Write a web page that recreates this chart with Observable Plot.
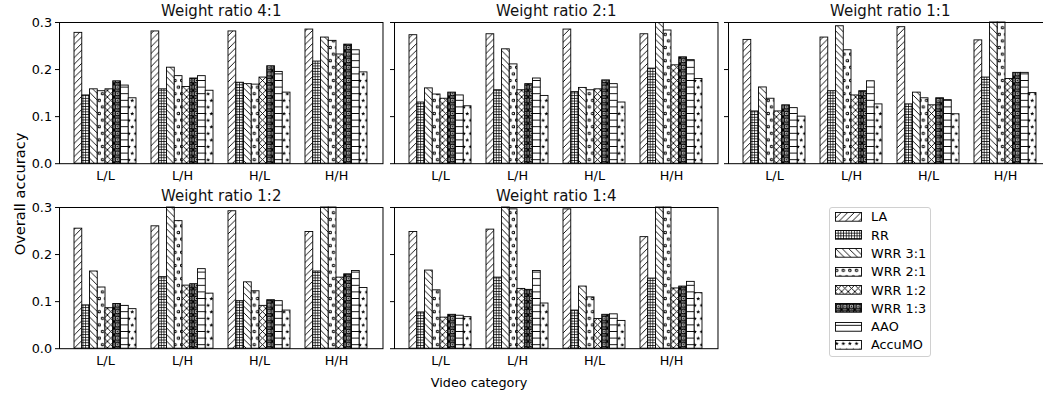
<!DOCTYPE html>
<html><head><meta charset="utf-8">
<script src="https://cdn.jsdelivr.net/npm/d3@7"></script>
<script src="https://cdn.jsdelivr.net/npm/@observablehq/plot@0.6"></script>
<style>
body{margin:0;background:#fff;}
#fig{position:relative;width:1043px;height:395px;overflow:hidden;font-family:"DejaVu Sans",sans-serif;color:#000;background:#fff;}
.panel{position:absolute;}
.lbl{position:absolute;font-size:12.8px;white-space:nowrap;}
#legend{position:absolute;left:829px;top:207px;width:100px;height:148px;border:1px solid #d0d0d0;border-radius:3px;background:#fff;}
.lrow{position:absolute;left:5px;height:10px;display:flex;align-items:center;font-size:12.8px;white-space:nowrap;}
.lrow svg{margin-right:9px;}
</style></head><body>
<svg width="0" height="0" style="position:absolute"><defs id="pdefs"></defs></svg>
<div id="fig"></div>
<script>
// ---- data ----
const categories = ["L/L", "L/H", "H/L", "H/H"];
const methods = ["LA", "RR", "WRR 3:1", "WRR 2:1", "WRR 1:2", "WRR 1:3", "AAO", "AccuMO"];
const panelTitles = ["Weight ratio 4:1", "Weight ratio 2:1", "Weight ratio 1:1", "Weight ratio 1:2", "Weight ratio 1:4"];
const yTicks = [0, 0.1, 0.2, 0.3];
const xLabel = "Video category";
const yLabel = "Overall accuracy";

// rows: methods (in order above), columns: categories
const ratio_4_1 = [
  [0.278, 0.281, 0.281, 0.285],
  [0.145, 0.158, 0.172, 0.217],
  [0.158, 0.204, 0.169, 0.268],
  [0.154, 0.186, 0.168, 0.261],
  [0.158, 0.163, 0.183, 0.232],
  [0.175, 0.181, 0.207, 0.253],
  [0.166, 0.186, 0.195, 0.241],
  [0.139, 0.155, 0.151, 0.194]
];
const ratio_2_1 = [
  [0.273, 0.275, 0.285, 0.275],
  [0.130, 0.156, 0.152, 0.202],
  [0.160, 0.243, 0.161, 0.299],
  [0.147, 0.211, 0.156, 0.283],
  [0.138, 0.156, 0.158, 0.209],
  [0.151, 0.169, 0.177, 0.226],
  [0.145, 0.181, 0.169, 0.220],
  [0.122, 0.144, 0.130, 0.180]
];
const ratio_1_1 = [
  [0.263, 0.268, 0.290, 0.262],
  [0.111, 0.154, 0.126, 0.183],
  [0.162, 0.292, 0.151, 0.320],
  [0.138, 0.241, 0.139, 0.310],
  [0.111, 0.145, 0.124, 0.180],
  [0.124, 0.154, 0.139, 0.193],
  [0.118, 0.175, 0.135, 0.193],
  [0.100, 0.126, 0.105, 0.150]
];
const ratio_1_2 = [
  [0.255, 0.260, 0.292, 0.248],
  [0.092, 0.152, 0.101, 0.164],
  [0.164, 0.310, 0.141, 0.320],
  [0.130, 0.271, 0.122, 0.310],
  [0.086, 0.134, 0.091, 0.151],
  [0.095, 0.137, 0.103, 0.158],
  [0.091, 0.169, 0.101, 0.165],
  [0.084, 0.117, 0.081, 0.129]
];
const ratio_1_4 = [
  [0.248, 0.253, 0.296, 0.237],
  [0.077, 0.151, 0.081, 0.149],
  [0.166, 0.320, 0.132, 0.320],
  [0.124, 0.296, 0.109, 0.310],
  [0.066, 0.127, 0.063, 0.128],
  [0.072, 0.125, 0.072, 0.132],
  [0.070, 0.165, 0.073, 0.142],
  [0.067, 0.096, 0.059, 0.118]
];
const panelData = [ratio_4_1, ratio_2_1, ratio_1_1, ratio_1_2, ratio_1_4];

// ---- hatch patterns (matplotlib-like) ----
function star(cx, cy, R, r) {
  const pts = [];
  for (let k = 0; k < 10; k++) {
    const a = (-90 + k * 36) * Math.PI / 180, rr = k % 2 ? r : R;
    pts.push((cx + rr * Math.cos(a)).toFixed(2) + "," + (cy + rr * Math.sin(a)).toFixed(2));
  }
  return `<polygon points="${pts.join(" ")}" fill="black"/>`;
}
const S = 'stroke="black"';
const U = 6.6, H2 = 13.2;
const patternDefs = [
  `<pattern id="p0" patternUnits="userSpaceOnUse" width="${U}" height="${U}"><rect width="${U}" height="${U}" fill="white"/><path d="M-1,1L1,-1M0,${U}L${U},0M${U-1},${U+1}L${U+1},${U-1}" ${S} stroke-width="0.9"/></pattern>`,
  `<pattern id="p1" patternUnits="userSpaceOnUse" width="2.7" height="2.7"><rect width="2.7" height="2.7" fill="white"/><path d="M0,0.4H2.7M0.4,0V2.7" ${S} stroke-width="0.8"/></pattern>`,
  `<pattern id="p2" patternUnits="userSpaceOnUse" width="${U}" height="${U}"><rect width="${U}" height="${U}" fill="white"/><path d="M-1,${U-1}L1,${U+1}M0,0L${U},${U}M${U-1},-1L${U+1},1" ${S} stroke-width="0.9"/></pattern>`,
  `<pattern id="p3" patternUnits="userSpaceOnUse" width="${U}" height="${H2}"><rect width="${U}" height="${H2}" fill="white"/><circle cx="1.7" cy="3.3" r="1.25" fill="white" ${S} stroke-width="1"/><circle cx="${1.7 + U/2}" cy="${3.3 + U}" r="1.25" fill="white" ${S} stroke-width="1"/></pattern>`,
  `<pattern id="p4" patternUnits="userSpaceOnUse" width="${U}" height="${U}"><rect width="${U}" height="${U}" fill="white"/><path d="M-1,1L1,-1M0,${U}L${U},0M${U-1},${U+1}L${U+1},${U-1}M-1,${U-1}L1,${U+1}M0,0L${U},${U}M${U-1},-1L${U+1},1" ${S} stroke-width="0.9"/></pattern>`,
  `<pattern id="p5" patternUnits="userSpaceOnUse" width="${U}" height="${U}"><rect width="${U}" height="${U}" fill="white"/><circle cx="${U/2}" cy="${U/2}" r="2.3" fill="none" ${S} stroke-width="1.4"/><circle cx="${U/2}" cy="${U/2}" r="0.9" fill="black"/><circle cx="0" cy="0" r="1.8" fill="black"/><circle cx="${U}" cy="0" r="1.8" fill="black"/><circle cx="0" cy="${U}" r="1.8" fill="black"/><circle cx="${U}" cy="${U}" r="1.8" fill="black"/></pattern>`,
  `<pattern id="p6" patternUnits="userSpaceOnUse" width="${U}" height="${U}"><rect width="${U}" height="${U}" fill="white"/><path d="M0,${U/2}H${U}" ${S} stroke-width="0.9"/></pattern>`,
  `<pattern id="p7" patternUnits="userSpaceOnUse" width="${U}" height="${H2}"><rect width="${U}" height="${H2}" fill="white"/>${star(1.7, 3.5, 2.2, 0.95)}${star(1.7 + U/2, 3.5 + U, 2.2, 0.95)}</pattern>`
];
document.getElementById("pdefs").innerHTML = patternDefs.join("");
const fills = methods.map((m, i) => `url(#p${i})`);

// ---- layout ----
const fig = document.getElementById("fig");
const innerW = 323.5, innerH = 141.2;
const ml = 44, mr = 8, mt = 24, mb = 28;
const frameLeft = [59, 394, 728];
const frameTop = [21.5, 207.4];
const nB = methods.length;
// band geometry for inset computation (grouped bars inside category bands)
const pIn = 0.2, pOut = 0.1875;
const step = innerW / (categories.length - pIn + 2 * pOut);
const bw = step * (1 - pIn) / nB;

panelData.forEach((mat, p) => {
  const col = p % 3, row = Math.floor(p / 3);
  const rows = [];
  mat.forEach((vals, mi) => vals.forEach((v, ci) => rows.push({method: methods[mi], mi, cat: categories[ci], value: v})));
  const bars = methods.map((m, i) => Plot.barY(rows.filter(d => d.mi === i), {
    x: "cat", y: "value", fill: fills[i], stroke: "black", strokeWidth: 0.9,
    insetLeft: i * bw, insetRight: (nB - 1 - i) * bw
  }));
  const chart = Plot.plot({
    width: ml + innerW + mr, height: mt + innerH + mb,
    marginLeft: ml, marginRight: mr, marginTop: mt, marginBottom: mb,
    style: {fontSize: "12.8px", fontFamily: "DejaVu Sans, sans-serif", fontWeight: "normal", color: "black", background: "transparent", overflow: "visible"},
    x: {domain: categories, paddingInner: pIn, paddingOuter: pOut, tickSize: 0, tickPadding: 7.5, label: null},
    y: {domain: [0, 0.3], clamp: true, ticks: yTicks, tickFormat: col === 0 ? (d => d.toFixed(1)) : (() => ""), tickSize: 4, tickPadding: 3.5, label: null},
    marks: [
      ...bars,
      Plot.frame({stroke: "black", strokeWidth: 1}),
      Plot.text([panelTitles[p]], {text: d => d, frameAnchor: "top", lineAnchor: "middle", dy: -11.5, fontSize: 15, fontWeight: "normal", fill: "#111"})
    ]
  });
  chart.classList.add("panel");
  chart.style.left = (frameLeft[col] - ml) + "px";
  chart.style.top = (frameTop[row] - mt) + "px";
  fig.appendChild(chart);
});

// axis labels
const yl = document.createElement("div");
yl.className = "lbl"; yl.textContent = yLabel;
yl.style.fontSize = "14.6px";
yl.style.left = "19px"; yl.style.top = "194px"; yl.style.transform = "translate(-50%,-50%) rotate(-90deg)";
fig.appendChild(yl);
const xl = document.createElement("div");
xl.className = "lbl"; xl.textContent = xLabel;
xl.style.left = "479px"; xl.style.top = "382px"; xl.style.transform = "translate(-50%,-50%)";
fig.appendChild(xl);

// legend
const lg = document.createElement("div");
lg.id = "legend";
methods.forEach((m, i) => {
  const r = document.createElement("div");
  r.className = "lrow";
  r.style.top = (3.8 + i * 18.3) + "px";
  r.innerHTML = `<svg width="27" height="10"><rect x="0.5" y="0.5" width="26" height="8.7" fill="${fills[i]}" stroke="black" stroke-width="0.9"/></svg><span>${m}</span>`;
  lg.appendChild(r);
});
fig.appendChild(lg);
</script>
</body></html>
